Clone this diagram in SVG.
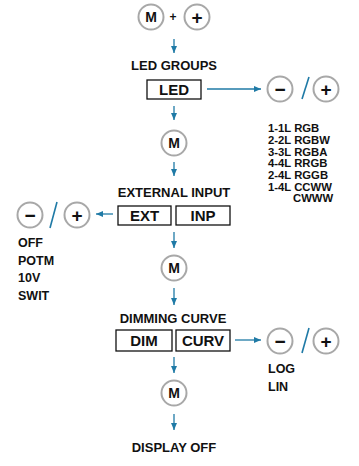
<svg xmlns="http://www.w3.org/2000/svg" width="359" height="466" viewBox="0 0 359 466">
<style>
text{font-family:"Liberation Sans",Arial,sans-serif;font-weight:bold;fill:#111}
.c{fill:#fff;stroke:#a8a8a8;stroke-width:2}
.ct{font-size:14px;text-anchor:middle}
.pm{font-size:19px;text-anchor:middle}
.b{fill:#fff;stroke:#111;stroke-width:1.3}
.bt{font-size:15px;text-anchor:middle}
.h{font-size:13px;text-anchor:middle}
.l{font-size:12.5px}
.ls{font-size:11.3px}
.a{stroke:#1f7aa6;stroke-width:1.3;fill:none;marker-end:url(#ah)}
.s{stroke:#1f7aa6;stroke-width:1.6}
</style>
<defs>
<marker id="ah" markerWidth="8" markerHeight="8" refX="7" refY="4" orient="auto" markerUnits="userSpaceOnUse">
<path d="M0,1 L7,4 L0,7 Z" fill="#1f7aa6"/>
</marker>
</defs>
<g id="start">
<circle class="c" cx="151" cy="17" r="12.5"/><text class="ct" x="151" y="22">M</text>
<text x="173" y="21" style="font-size:12px;text-anchor:middle">+</text>
<circle class="c" cx="197" cy="17" r="12.5"/><text class="pm" x="197" y="23.5">+</text>
</g>
<g id="led">
<text class="h" x="174" y="70">LED GROUPS</text>
<rect class="b" x="147" y="80" width="54" height="19"/><text class="bt" x="174" y="95">LED</text>
</g>
<g id="led-adjust">
<circle class="c" cx="280" cy="89" r="12.5"/><text class="pm" x="280" y="95.5">−</text>
<line class="s" x1="302" y1="99" x2="309" y2="77"/>
<circle class="c" cx="326" cy="89" r="12.5"/><text class="pm" x="326" y="95.5">+</text>
<text class="ls" x="268" y="132">1-1L RGB</text>
<text class="ls" x="268" y="144">2-2L RGBW</text>
<text class="ls" x="268" y="155.5">3-3L RGBA</text>
<text class="ls" x="268" y="167">4-4L RRGB</text>
<text class="ls" x="268" y="179">2-4L RGGB</text>
<text class="ls" x="268" y="190.5">1-4L CCWW</text>
<text class="ls" x="293" y="202">CWWW</text>
</g>
<g id="m1"><circle class="c" cx="174" cy="143" r="12.5"/><text class="ct" x="174" y="148">M</text></g>
<g id="ext">
<text class="h" x="174" y="197">EXTERNAL INPUT</text>
<rect class="b" x="118" y="206" width="53" height="19"/><text class="bt" x="144.5" y="221">EXT</text>
<rect class="b" x="176" y="206" width="54" height="19"/><text class="bt" x="203" y="221">INP</text>
</g>
<g id="ext-adjust">
<circle class="c" cx="30" cy="215" r="12.5"/><text class="pm" x="30" y="221.5">−</text>
<line class="s" x1="50" y1="228" x2="57" y2="202"/>
<circle class="c" cx="77" cy="215" r="12.5"/><text class="pm" x="77" y="221.5">+</text>
<text class="l" x="18" y="247">OFF</text>
<text class="l" x="18" y="264.5">POTM</text>
<text class="l" x="18" y="282">10V</text>
<text class="l" x="18" y="300">SWIT</text>
</g>
<g id="m2"><circle class="c" cx="174" cy="268" r="12.5"/><text class="ct" x="174" y="273">M</text></g>
<g id="dim">
<text class="h" x="173" y="323">DIMMING CURVE</text>
<rect class="b" x="116" y="330" width="56" height="21"/><text class="bt" x="144" y="346">DIM</text>
<rect class="b" x="176" y="330" width="54" height="21"/><text class="bt" x="203" y="346">CURV</text>
</g>
<g id="dim-adjust">
<circle class="c" cx="280" cy="341" r="12.5"/><text class="pm" x="280" y="347.5">−</text>
<line class="s" x1="302" y1="353" x2="309" y2="328"/>
<circle class="c" cx="326" cy="341" r="12.5"/><text class="pm" x="326" y="347.5">+</text>
<text class="l" x="268" y="373">LOG</text>
<text class="l" x="268" y="391">LIN</text>
</g>
<g id="m3"><circle class="c" cx="174" cy="393" r="12.5"/><text class="ct" x="174" y="398">M</text></g>
<g id="end"><text class="h" x="174" y="452">DISPLAY OFF</text></g>
<g id="connectors">
<line class="a" x1="174" y1="39" x2="174" y2="53"/>
<line class="a" x1="207" y1="89" x2="261" y2="89"/>
<line class="a" x1="174" y1="106" x2="174" y2="120"/>
<line class="a" x1="174" y1="162" x2="174" y2="176"/>
<line class="a" x1="113" y1="214" x2="96" y2="214"/>
<line class="a" x1="174" y1="232" x2="174" y2="248"/>
<line class="a" x1="174" y1="288" x2="174" y2="305"/>
<line class="a" x1="235" y1="340" x2="261" y2="340"/>
<line class="a" x1="174" y1="357" x2="174" y2="373"/>
<line class="a" x1="174" y1="414" x2="174" y2="430"/>
</g>
</svg>
